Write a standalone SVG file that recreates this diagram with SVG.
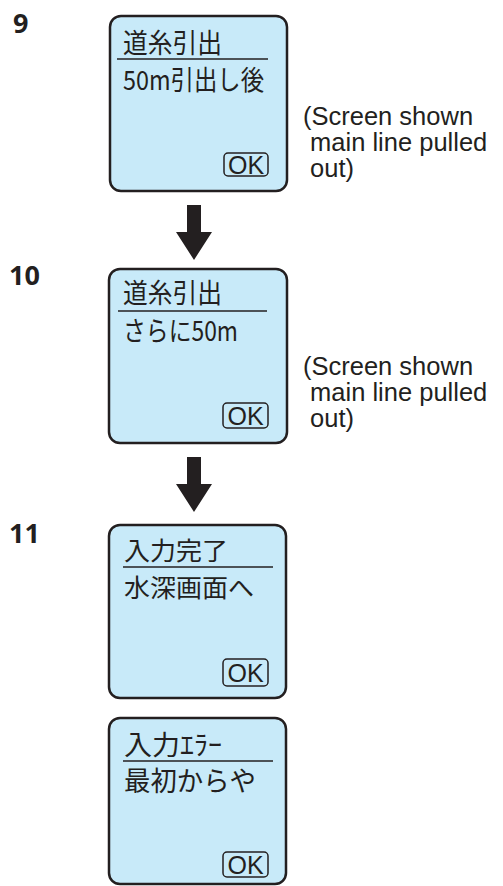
<svg xmlns="http://www.w3.org/2000/svg" width="503" height="886" viewBox="0 0 503 886">
<style>
.scr{fill:#c8eaf9;stroke:#231f20;stroke-width:2.5}
.ul{stroke:#231f20;stroke-width:1.5}
.jp{font-family:"Noto Sans CJK JP","Noto Sans",sans-serif;font-size:27px;fill:#231f20;font-weight:400}
.okb{fill:none;stroke:#231f20;stroke-width:1.5}
.ok{font-family:"Liberation Sans",Arial,sans-serif;font-size:25px;fill:#231f20;text-anchor:middle}
.num{font-family:"Open Sans","DejaVu Sans",sans-serif;font-weight:bold;font-size:27px;fill:#231f20}
.note{font-family:"Liberation Sans",Arial,sans-serif;font-size:25.5px;fill:#231f20}
.arr{fill:#231f20}
</style>
<rect width="503" height="886" fill="#ffffff"/>
<text class="num" x="13" y="33">9</text>
<text class="num" x="9" y="285">10</text>
<text class="num" x="9" y="543">11</text>
<g id="screen9">
<rect class="scr" x="110" y="16" width="177" height="175" rx="11"/>
<text class="jp" x="123" y="53" textLength="99" lengthAdjust="spacingAndGlyphs">道糸引出</text>
<line class="ul" x1="117" y1="59" x2="268" y2="59"/>
<text class="jp" x="123" y="90" textLength="141" lengthAdjust="spacingAndGlyphs">50m引出し後</text>
<rect class="okb" x="224" y="153" width="44" height="23" rx="4"/>
<text class="ok" x="246" y="173.5">OK</text>
</g>
<g id="note9">
<text class="note" x="303" y="125">(Screen shown</text>
<text class="note" x="303" y="151" xml:space="preserve"> main line pulled</text>
<text class="note" x="303" y="177" xml:space="preserve"> out)</text>
</g>
<g id="screen10">
<rect class="scr" x="109" y="269" width="178" height="174" rx="11"/>
<text class="jp" x="123" y="303" textLength="99" lengthAdjust="spacingAndGlyphs">道糸引出</text>
<line class="ul" x1="118" y1="311" x2="267" y2="311"/>
<text class="jp" x="123" y="341" textLength="115" lengthAdjust="spacingAndGlyphs">さらに50m</text>
<rect class="okb" x="223" y="403" width="45" height="25" rx="4"/>
<text class="ok" x="245.5" y="425">OK</text>
</g>
<g id="note10">
<text class="note" x="303" y="375">(Screen shown</text>
<text class="note" x="303" y="401" xml:space="preserve"> main line pulled</text>
<text class="note" x="303" y="427" xml:space="preserve"> out)</text>
</g>
<g id="screen11a">
<rect class="scr" x="109" y="525" width="177" height="173" rx="11"/>
<text class="jp" x="124" y="560" style="font-size:25px" textLength="104" lengthAdjust="spacingAndGlyphs">入力完了</text>
<line class="ul" x1="123" y1="567" x2="273" y2="567"/>
<text class="jp" x="124" y="597" style="font-size:25px" textLength="130" lengthAdjust="spacingAndGlyphs">水深画面へ</text>
<rect class="okb" x="223" y="659" width="45" height="27" rx="4"/>
<text class="ok" x="245.5" y="682">OK</text>
</g>
<g id="screen11b">
<rect class="scr" x="109" y="718" width="177" height="166" rx="11"/>
<text class="jp" x="124" y="755" textLength="98" lengthAdjust="spacingAndGlyphs">入力ｴﾗｰ</text>
<line class="ul" x1="123" y1="761" x2="273" y2="761"/>
<text class="jp" x="124" y="791" textLength="132" lengthAdjust="spacingAndGlyphs">最初からや</text>
<rect class="okb" x="223" y="852" width="45" height="25" rx="4"/>
<text class="ok" x="245.5" y="874">OK</text>
</g>
<g id="connectors">
<polygon class="arr" points="187,205 201,205 201,232 212,232 194,260 176,232 187,232"/>
<polygon class="arr" points="187,457 201,457 201,484 212,484 194,512 176,484 187,484"/>
</g>
</svg>
